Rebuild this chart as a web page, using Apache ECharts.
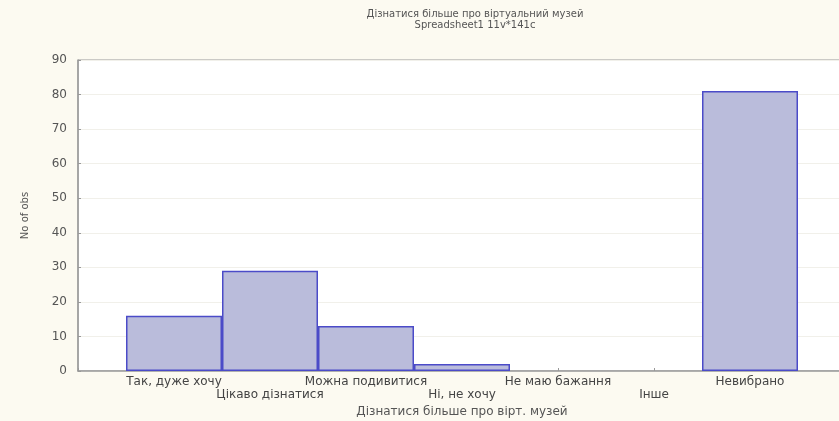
<!DOCTYPE html>
<html><head><meta charset="utf-8">
<script src="https://cdn.jsdelivr.net/npm/echarts@6/dist/echarts.min.js"></script>
<style>html,body{margin:0;padding:0;background:#fcfaf1;}#c{width:839px;height:421px;}</style>
</head><body><div id="c"></div>
<script>
const categories = ['Так, дуже хочу','Цікаво дізнатися','Можна подивитися','Ні, не хочу','Не маю бажання','Інше','Невибрано'];
const counts = [16, 29, 13, 2, 0, 0, 81];
const yTicks = [0,10,20,30,40,50,60,70,80,90];
const titleLines = ['Дізнатися більше про віртуальний музей','Spreadsheet1 11v*141c'];
const xName = 'Дізнатися більше про вірт. музей';
const yName = 'No of obs';

const chart = echarts.init(document.getElementById('c'));
const font = '"DejaVu Sans", Verdana, sans-serif';
chart.setOption({
  backgroundColor: '#fcfaf1',
  animation: false,
  title: {
    text: titleLines.join('\n'), left: 470, top: 4, textAlign: 'center',
    textStyle: {fontSize: 10, fontWeight: 'normal', color: '#555', fontFamily: font, lineHeight: 11}
  },
  grid: {left: 78, top: 60, width: 768, height: 311, outerBoundsMode: 'none', containLabel: false,
    show: true, backgroundColor: '#ffffff', borderColor: '#9a9a9a', borderWidth: 1},
  xAxis: {
    type: 'value', min: -1, max: 7, interval: 1,
    name: xName, nameLocation: 'middle', nameGap: 35,
    nameTextStyle: {fontSize: 12, color: '#555', fontFamily: font},
    axisLine: {show: true, onZero: false, lineStyle: {color: '#9a9a9a', width: 1.5}},
    axisTick: {show: true, inside: true, length: 3, lineStyle: {color: '#999'}},
    splitLine: {show: false},
    axisLabel: {
      fontSize: 12, color: '#444', fontFamily: font, margin: 4, lineHeight: 13,
      formatter: function(v){
        const i = Math.round(v);
        if (i < 0 || i >= categories.length) return '';
        return i % 2 === 0 ? categories[i] : '\n' + categories[i];
      }
    }
  },
  yAxis: {
    type: 'value', min: 0, max: 90, interval: 10,
    name: yName, nameLocation: 'middle', nameGap: 48, nameRotate: 90,
    nameTextStyle: {fontSize: 10, color: '#555', fontFamily: font},
    axisLine: {show: true, onZero: false, lineStyle: {color: '#9a9a9a', width: 1.5}},
    axisTick: {show: true, inside: true, length: 3, lineStyle: {color: '#999'}},
    splitLine: {show: true, lineStyle: {color: '#f1f0ea', width: 1}},
    axisLabel: {fontSize: 12, color: '#555', fontFamily: font, margin: 11,
      formatter: function(v){ return yTicks.indexOf(v) >= 0 ? String(v) : ''; }}
  },
  series: [{
    type: 'bar',
    data: counts.map((v, i) => ({value: [i, v], itemStyle: v === 0 ? {borderWidth: 0} : undefined})),
    barWidth: 96,
    itemStyle: {color: '#babcdb', borderColor: '#4b4bc8', borderWidth: 1.5}
  }]
});
</script></body></html>
